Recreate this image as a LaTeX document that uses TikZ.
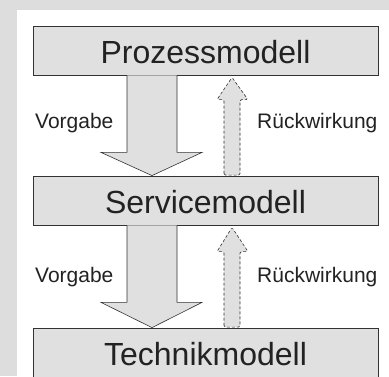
\documentclass[tikz,border=0pt]{standalone}
\usepackage{fontspec}
\setmainfont{Liberation Sans}
\usetikzlibrary{calc}
\definecolor{bggray}{HTML}{DDDDDD}
\definecolor{boxgray}{HTML}{E0E0E0}
\definecolor{linegray}{HTML}{333333}
\definecolor{txt}{HTML}{222222}
\begin{document}
\begin{tikzpicture}[x=1pt,y=-1pt,
  model/.style={draw=linegray, line width=0.8pt, fill=boxgray, minimum width=345pt, inner sep=0pt,
     text height=25pt, text depth=0pt, font=\fontsize{32}{34}\selectfont, text=txt},
  lbl/.style={anchor=west, inner sep=0pt, font=\fontsize{21}{24}\selectfont, text=txt},
  downline/.style={draw=linegray, line width=0.6pt, line join=miter},
  upline/.style={draw=linegray, line width=0.6pt, dashed, dash pattern=on 3pt off 2pt, fill=boxgray}
]
\useasboundingbox (0,0) rectangle (389,376);
\fill[bggray] (0,0) rectangle (389,376);
\fill[white] (17,10) rectangle (389,376);

\node[model, minimum height=49pt] (p) at (205.5,50.5) {Prozessmodell};
\node[model, minimum height=49pt] (s) at (205.5,200.5) {Servicemodell};
\node[model, minimum height=50pt, text height=24pt] (t) at (205.5,353) {Technikmodell};

% down arrows (Vorgabe)
\foreach \a/\b in {p/s, s/t}{
  \fill[boxgray] ($(\a.south)+(-78.5,0)$) -- ($(\a.south)+(-78.5,77)$) -- ($(\a.south)+(-104.5,77)$)
     -- (\b.north -| 152,0) -- ($(\a.south)+(-3.5,77)$) -- ($(\a.south)+(-28.5,77)$) -- ($(\a.south)+(-28.5,0)$) -- cycle;
  \draw[downline] ($(\a.south)+(-78.5,0)$) -- ($(\a.south)+(-78.5,77)$) -- ($(\a.south)+(-104.5,77)$)
     -- (\b.north -| 152,0) -- ($(\a.south)+(-3.5,77)$) -- ($(\a.south)+(-28.5,77)$) -- ($(\a.south)+(-28.5,0)$);
}
% up arrows (Rueckwirkung), dashed
\foreach \a/\b in {p/s, s/t}{
  \draw[upline, rounded corners=1.5pt] ($(\b.north)+(18.5,-0.5)$) -- ($(\b.north)+(18.5,-76)$) -- ($(\b.north)+(11.5,-76)$)
     -- ($(\a.south)+(26.5,2)$) -- ($(\b.north)+(42.5,-76)$) -- ($(\b.north)+(34.5,-76)$) -- ($(\b.north)+(34.5,-0.5)$) -- cycle;
}

\node[lbl] (v1) at (35,123) {Vorgabe};
\node[lbl] (r1) at (257,123) {Rückwirkung};
\node[lbl] (v2) at (35,277) {Vorgabe};
\node[lbl] (r2) at (257,277) {Rückwirkung};
\end{tikzpicture}
\end{document}
